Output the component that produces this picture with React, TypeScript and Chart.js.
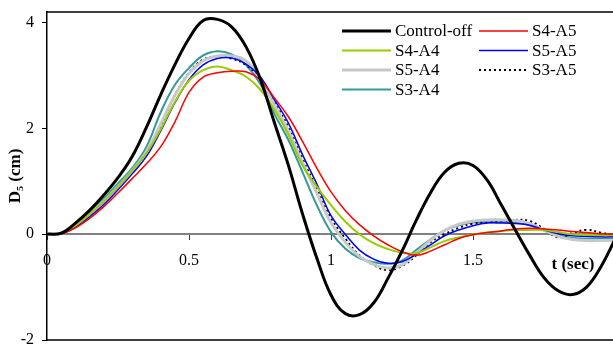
import React, { useEffect, useRef } from 'react';
import { Chart, registerables } from 'chart.js';

Chart.register(...registerables);

const FONT = '"Liberation Serif", "Times New Roman", serif';

const TIME = [0, 0.05, 0.1, 0.15, 0.2, 0.25, 0.3, 0.35, 0.4, 0.45, 0.5, 0.55, 0.6, 0.65, 0.7, 0.75, 0.8, 0.85, 0.9, 0.95, 1.0,
  1.05, 1.1, 1.15, 1.2, 1.25, 1.3, 1.35, 1.4, 1.45, 1.5, 1.55, 1.6, 1.65, 1.7, 1.75, 1.8, 1.85, 1.9, 1.95, 2.0];

const CONTROL_OFF = [0, 0.02, 0.21, 0.45, 0.74, 1.07, 1.47, 2.02, 2.63, 3.2, 3.7, 4.04, 4.06, 3.92, 3.55, 2.95, 2.12, 1.3, 0.38, -0.45, -1.15,
  -1.5, -1.52, -1.3, -0.84, -0.32, 0.26, 0.78, 1.17, 1.34, 1.3, 1.02, 0.55, 0.07, -0.4, -0.82, -1.07, -1.14, -1.0, -0.62, -0.1];
const S4_A5 = [0, 0.01, 0.12, 0.3, 0.52, 0.78, 1.05, 1.33, 1.65, 2.12, 2.68, 2.97, 3.05, 3.08, 3.07, 2.92, 2.58, 2.22, 1.75, 1.25, 0.8,
  0.45, 0.18, -0.03, -0.2, -0.33, -0.4, -0.32, -0.2, -0.08, -0.01, 0.03, 0.06, 0.1, 0.11, 0.1, 0.08, 0.05, 0.03, 0.01, 0.0];
const S4_A4 = [0, 0.02, 0.16, 0.38, 0.62, 0.9, 1.2, 1.53, 1.98, 2.5, 2.9, 3.1, 3.17, 3.1, 2.98, 2.74, 2.36, 1.88, 1.3, 0.9, 0.55,
  0.24, 0.0, -0.17, -0.28, -0.35, -0.36, -0.25, -0.13, -0.06, -0.01, 0.03, 0.06, 0.08, 0.08, 0.08, 0.04, 0.0, -0.01, -0.02, -0.02];
const S5_A5 = [0, 0.01, 0.13, 0.33, 0.56, 0.84, 1.14, 1.47, 1.95, 2.48, 2.92, 3.2, 3.32, 3.33, 3.22, 2.98, 2.55, 2.1, 1.5, 0.95, 0.35,
  0.0, -0.3, -0.47, -0.55, -0.52, -0.38, -0.2, -0.03, 0.08, 0.16, 0.21, 0.21, 0.2, 0.17, 0.08, 0.01, -0.03, -0.04, -0.05, -0.05];
const S5_A4 = [0, 0.02, 0.16, 0.38, 0.62, 0.9, 1.2, 1.56, 2.08, 2.62, 3.04, 3.28, 3.37, 3.37, 3.28, 2.95, 2.45, 1.95, 1.35, 0.78, 0.22,
  -0.15, -0.42, -0.57, -0.64, -0.58, -0.36, -0.12, 0.07, 0.19, 0.25, 0.27, 0.27, 0.26, 0.2, 0.08, -0.04, -0.1, -0.12, -0.12, -0.12];
const S3_A5 = [0, 0.02, 0.15, 0.37, 0.62, 0.9, 1.2, 1.55, 2.05, 2.62, 3.05, 3.3, 3.36, 3.32, 3.2, 2.95, 2.5, 2.02, 1.42, 0.86, 0.3,
  -0.08, -0.4, -0.58, -0.68, -0.6, -0.4, -0.15, 0.0, 0.12, 0.2, 0.22, 0.24, 0.27, 0.25, 0.1, -0.06, 0.02, 0.08, 0.03, -0.03];
const S3_A4 = [0, 0.02, 0.19, 0.42, 0.67, 0.96, 1.25, 1.65, 2.3, 2.82, 3.14, 3.38, 3.46, 3.4, 3.2, 2.85, 2.28, 1.78, 1.17, 0.55, 0.04,
  -0.27, -0.45, -0.53, -0.56, -0.5, -0.3, -0.1, 0.07, 0.17, 0.22, 0.23, 0.23, 0.22, 0.17, 0.07, -0.02, -0.07, -0.08, -0.08, -0.08];

const SERIES_NAMES = ['Control-off', 'S4-A5', 'S4-A4', 'S5-A5', 'S5-A4', 'S3-A5', 'S3-A4'];
const X_TICKS = [0, 0.5, 1, 1.5];
const Y_TICKS = [-2, 0, 2, 4];
const Y_TITLE = 'D₅ (cm)';
const X_TITLE = 't (sec)';

const toPoints = (vals: number[]) => vals.map((v, i) => ({ x: TIME[i], y: v }));

const decorPlugin = {
  id: 'decor',
  afterDraw(chart: any) {
    const { ctx, chartArea: a } = chart;
    const xs = chart.scales.x;
    const ys = chart.scales.y;
    ctx.save();
    ctx.strokeStyle = '#000';
    ctx.lineWidth = 1.5;
    ctx.beginPath();
    ctx.moveTo(a.left, a.top);
    ctx.lineTo(a.right, a.top);
    ctx.moveTo(a.left, a.bottom);
    ctx.lineTo(a.right, a.bottom);
    ctx.stroke();

    ctx.fillStyle = '#000';
    ctx.font = 'bold 17px ' + FONT;
    ctx.textAlign = 'center';
    ctx.textBaseline = 'middle';
    ctx.fillText(X_TITLE, xs.getPixelForValue(1.852), ys.getPixelForValue(0) + 30);

    ctx.font = '17px ' + FONT;
    ctx.textAlign = 'left';
    const colX = [342, 479];
    const lineLen = 49;
    chart.data.datasets.forEach((ds: any, i: number) => {
      const cx = colX[i % 2];
      const cy = 31 + Math.floor(i / 2) * 19.5;
      ctx.save();
      ctx.strokeStyle = ds.borderColor;
      ctx.lineWidth = ds.borderWidth;
      ctx.setLineDash(ds.borderDash || []);
      ctx.beginPath();
      ctx.moveTo(cx, cy);
      ctx.lineTo(cx + lineLen, cy);
      ctx.stroke();
      ctx.restore();
      ctx.fillStyle = '#000';
      ctx.fillText(ds.label, cx + lineLen + 4, cy + 1);
    });
    ctx.restore();
  },
};

export default function App() {
  const ref = useRef<HTMLCanvasElement | null>(null);

  useEffect(() => {
    if (!ref.current) return;
    const series = [CONTROL_OFF, S4_A5, S4_A4, S5_A5, S5_A4, S3_A5, S3_A4];
    const styles = [
      { color: '#000000', width: 3, dash: [] as number[] },
      { color: '#ff0000', width: 1.5, dash: [] },
      { color: '#99cc00', width: 2, dash: [] },
      { color: '#0000ff', width: 1.5, dash: [] },
      { color: '#c8c8c8', width: 3, dash: [] },
      { color: '#000000', width: 2, dash: [2, 3] },
      { color: '#339999', width: 2, dash: [] },
    ];
    const chart = new Chart(ref.current, {
      type: 'line',
      data: {
        datasets: series.map((vals, i) => ({
          label: SERIES_NAMES[i],
          data: toPoints(vals),
          borderColor: styles[i].color,
          backgroundColor: styles[i].color,
          borderWidth: styles[i].width,
          borderDash: styles[i].dash,
          pointRadius: 0,
          tension: 0.4,
          fill: false,
        })),
      },
      options: {
        responsive: false,
        animation: false,
        devicePixelRatio: 1,
        layout: { padding: { top: 12, right: 5, bottom: 5, left: 0 } },
        plugins: { legend: { display: false }, tooltip: { enabled: false } },
        scales: {
          x: {
            type: 'linear',
            min: 0,
            max: 2,
            position: { y: 0 } as any,
            afterBuildTicks: (s: any) => { s.ticks = X_TICKS.map((v) => ({ value: v })); },
            afterFit: (s: any) => { s.height = 0; s.paddingLeft = 0; s.paddingRight = 0; s.paddingTop = 0; s.paddingBottom = 0; },
            ticks: {
              font: { family: FONT, size: 16 },
              color: '#000',
              padding: 12,
              maxRotation: 0,
              callback: (v: any) => String(v),
            },
            grid: { drawOnChartArea: false, tickLength: 5, color: '#404040', lineWidth: 1 },
            border: { color: '#808080', width: 2 },
          },
          y: {
            type: 'linear',
            min: -2,
            max: 4.2,
            afterBuildTicks: (s: any) => { s.ticks = Y_TICKS.map((v) => ({ value: v })); },
            afterFit: (s: any) => { s.width = 47; s.paddingTop = 0; s.paddingBottom = 0; s.paddingLeft = 0; s.paddingRight = 0; },
            ticks: {
              font: { family: FONT, size: 16 },
              color: '#000',
              padding: 8,
              callback: (v: any) => String(v),
            },
            grid: { drawOnChartArea: false, tickLength: 5, color: '#000', lineWidth: 1 },
            border: { color: '#000', width: 1.5 },
            title: {
              display: true,
              text: Y_TITLE,
              color: '#000',
              font: { family: FONT, size: 17, weight: 'bold' },
              padding: { top: 5, bottom: 0 },
            },
          },
        },
      },
      plugins: [decorPlugin],
    });
    return () => chart.destroy();
  }, []);

  return (
    <div style={{ position: 'fixed', left: 0, top: 0, width: 613, height: 345, overflow: 'hidden', background: '#fff' }}>
      <canvas ref={ref} width={620} height={345} style={{ display: 'block', width: 620, height: 345 }} />
    </div>
  );
}
